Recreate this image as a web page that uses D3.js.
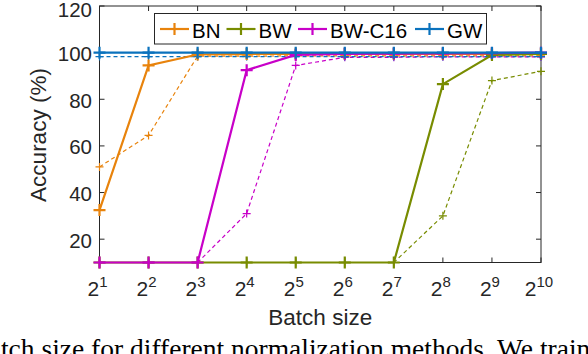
<!DOCTYPE html>
<html><head><meta charset="utf-8">
<script src="https://cdn.jsdelivr.net/npm/d3@7"></script>
<style>body{margin:0;background:#fff}svg{display:block}</style>
</head><body>
<svg id="c" width="588" height="354"></svg>
<script>
const exponents = [1,2,3,4,5,6,7,8,9,10];
const seriesNames = ["BN","BW","BW-C16","GW"];
const bnSolid   = [32.5, 94.5, 99.2, 99.4, 99.5, 99.5, 99.5, 99.5, 99.5, 99.5];
const bnDashed  = [51, 64.5, 98.5, 98.5, 98.6, 98.6, 98.6, 98.6, 98.6, 98.6];
const bwSolid   = [10, 10, 10, 10, 10, 10, 10, 86.5, 99, 99.5];
const bwDashed  = [10, 10, 10, 10, 10, 10, 10, 30, 88, 92];
const c16Solid  = [10, 10, 10, 92.5, 99, 99.5, 99.6, 99.7, 99.8, 100];
const c16Dashed = [10, 10, 10, 31, 94.5, 98, 98, 98.2, 98.2, 98.2];
const gwSolid   = [100, 100, 100, 100, 100, 100, 100, 100, 100, 100];
const gwDashed  = [98.3, 98.3, 98.3, 98.3, 98.3, 98.3, 98.3, 98.3, 98.3, 98.3];
const yTicks = [20, 40, 60, 80, 100, 120];
const colors = ["#E8830C", "#788C00", "#C800C8", "#0A72BD"];

const svg = d3.select("#c");
const L = 99.5, R = 541, T = 6, B = 262.5;
const x = d3.scaleLinear().domain([1,10]).range([L,R]);
const y = d3.scaleLinear().domain([10,120]).range([B,T]);
const axisCol = "#262626";
const font = "Liberation Sans, Arial, Helvetica, sans-serif";

svg.append("rect").attr("x",L).attr("y",T).attr("width",R-L).attr("height",B-T)
  .attr("fill","none").attr("stroke",axisCol).attr("stroke-width",1);

const tk = 5;
exponents.forEach(e=>{
  svg.append("line").attr("x1",x(e)).attr("x2",x(e)).attr("y1",B).attr("y2",B-tk).attr("stroke",axisCol);
  svg.append("line").attr("x1",x(e)).attr("x2",x(e)).attr("y1",T).attr("y2",T+tk).attr("stroke",axisCol);
  const t = svg.append("text").attr("x",x(e)-2).attr("y",296).attr("text-anchor","middle")
    .attr("font-family",font).attr("font-size",21).attr("fill",axisCol);
  t.append("tspan").text("2");
  t.append("tspan").attr("dy",-9).attr("font-size",15).text(e);
});
yTicks.forEach(v=>{
  svg.append("line").attr("x1",L).attr("x2",L+tk).attr("y1",y(v)).attr("y2",y(v)).attr("stroke",axisCol);
  svg.append("line").attr("x1",R).attr("x2",R-tk).attr("y1",y(v)).attr("y2",y(v)).attr("stroke",axisCol);
  svg.append("text").attr("x",92).attr("y",Math.max(y(v)+8.5,17)).attr("text-anchor","end")
    .attr("font-family",font).attr("font-size",20.5).attr("fill",axisCol).text(v);
});

svg.append("text").attr("transform","translate(46,135) rotate(-90)").attr("text-anchor","middle")
  .attr("font-family",font).attr("font-size",22.5).attr("fill",axisCol).text("Accuracy (%)");
svg.append("text").attr("x",(L+R)/2).attr("y",325).attr("text-anchor","middle")
  .attr("font-family",font).attr("font-size",22.5).attr("fill",axisCol).text("Batch size");

const line = d3.line().x((d,i)=>x(exponents[i])).y(d=>y(d));
const solids = [bnSolid,bwSolid,c16Solid,gwSolid];
const dashes = [bnDashed,bwDashed,c16Dashed,gwDashed];

function plus(g, cx, cy, s, col, w){
  g.append("path").attr("d",`M${cx-s},${cy}H${cx+s}M${cx},${cy-s}V${cy+s}`)
   .attr("stroke",col).attr("stroke-width",w).attr("fill","none");
}

const plot = svg.append("g");
dashes.forEach((arr,k)=>{
  plot.append("path").attr("d",line(arr)).attr("fill","none").attr("stroke",colors[k])
    .attr("stroke-width",1.2).attr("stroke-dasharray","4,3");
  arr.forEach((v,i)=>plus(plot,x(exponents[i]),y(v),4,colors[k],1.2));
});
solids.forEach((arr,k)=>{
  plot.append("path").attr("d",line(arr)).attr("fill","none").attr("stroke",colors[k])
    .attr("stroke-width",2.2);
  arr.forEach((v,i)=>plus(plot,x(exponents[i]),y(v),6,colors[k],2.2));
});

const lg = svg.append("g");
lg.append("rect").attr("x",154.5).attr("y",13.5).attr("width",332).attr("height",30.5)
  .attr("fill","#fff").attr("stroke",axisCol).attr("stroke-width",1);
const lx = [160, 226.5, 298, 415];
seriesNames.forEach((n,k)=>{
  const x0 = lx[k];
  lg.append("line").attr("x1",x0).attr("x2",x0+29).attr("y1",29).attr("y2",29)
    .attr("stroke",colors[k]).attr("stroke-width",2.2);
  plus(lg,x0+14.5,29,6,colors[k],2.2);
  lg.append("text").attr("x",x0+32).attr("y",37.5).attr("font-family",font)
    .attr("font-size",20.5).attr("fill","#000").text(n);
});

svg.append("text").attr("x",-25).attr("y",358).attr("font-family","Liberation Serif, Times New Roman, serif")
  .attr("font-size",27.5).attr("fill","#000").text("batch size for different normalization methods. We train");
</script>
</body></html>
